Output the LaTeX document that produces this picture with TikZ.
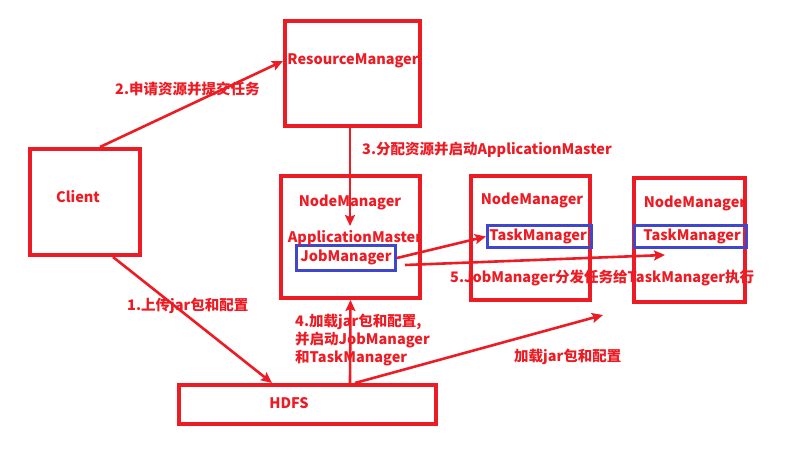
\documentclass[tikz,border=0pt]{standalone}
\usepackage{fontspec}
\setmainfont{Noto Sans CJK SC}
\usetikzlibrary{arrows.meta,calc}
\definecolor{rd}{RGB}{237,28,36}
\definecolor{bl}{RGB}{63,72,204}
\tikzset{
  redbox/.style={draw=rd,line width=4pt,rectangle,inner sep=0pt},
  bluebox/.style={draw=bl,line width=3pt,rectangle,inner sep=0pt},
  lbl/.style={text=rd,font=\bfseries\fontsize{14.5}{18}\selectfont,inner sep=0pt},
  arr/.style={draw=rd,line width=2.6pt,-{Stealth[length=11pt,width=10pt,inset=2pt]}},
}
\begin{document}
\begin{tikzpicture}[x=1pt,y=-1pt]
\useasboundingbox (0,0) rectangle (787,452);
% boxes
\node[redbox,minimum width=110pt,minimum height=106pt] (client) at (85,202) {};
\node[redbox,minimum width=135pt,minimum height=105pt] (rm) at (352.5,73.5) {};
\node[redbox,minimum width=139pt,minimum height=122pt] (nm1) at (350.5,237) {};
\node[redbox,minimum width=119pt,minimum height=124pt] (nm2) at (530.5,238) {};
\node[redbox,minimum width=111pt,minimum height=124pt] (nm3) at (689.5,240) {};
\node[redbox,minimum width=257pt,minimum height=39pt] (hdfs) at (307.5,404.5) {};
\node[bluebox,minimum width=99pt,minimum height=25pt] (jm) at (346,258) {};
\node[bluebox,minimum width=104pt,minimum height=22pt] (tm2) at (539.5,236.5) {};
\node[bluebox,minimum width=112pt,minimum height=22pt] (tm3) at (690.5,236.5) {};
% texts
\node[lbl] (clientT) at (78,197) {Client};
\node[lbl] (rmT) at (353,61) {ResourceManager};
\node[lbl] (nm1T) at (350,202) {NodeManager};
\node[lbl] (amT) at (355,238) {ApplicationMaster};
\node[lbl] (jmT) at (346,257) {JobManager};
\node[lbl] (nm2T) at (532,200) {NodeManager};
\node[lbl] (tm2T) at (538,236) {TaskManager};
\node[lbl] (nm3T) at (695,203) {NodeManager};
\node[lbl] (tm3T) at (692,236) {TaskManager};
\node[lbl] (hdfsT) at (289,403) {HDFS};
% labels
\node[lbl,anchor=west] (l2) at (115,89) {2.申请资源并提交任务};
\node[lbl,anchor=west] (l3) at (362,150) {3.分配资源并启动ApplicationMaster};
\node[lbl,anchor=west] (l1) at (127,306) {1.上传jar包和配置};
\node[lbl,anchor=west,align=left] (l4) at (295,340) {4.加载jar包和配置,\\并启动JobManager\\和TaskManager};
\node[lbl,anchor=west] (l5) at (450,278) {5.JobManager分发任务给TaskManager执行};
\node[lbl,anchor=west] (l6) at (514,357) {加载jar包和配置};
% free ends
\coordinate (a3end) at (350,226);
\coordinate (a6end) at (603,315);
\coordinate (a7end) at (665,255);
% arrows
\draw[arr] ([xshift=15pt]client.north) -- ([yshift=12.5pt]rm.west);
\draw[arr] ([xshift=-2.5pt]rm.south) -- (a3end);
\draw[arr] ([xshift=28pt]client.south) -- ([xshift=-35.5pt]hdfs.north);
\draw[arr] ([xshift=42.5pt]hdfs.north) -- (nm1.south);
\draw[arr] ([xshift=47.5pt]hdfs.north) -- (a6end);
\draw[arr] (jm.east) -- (tm2.west);
\draw[arr] ([shift={(8pt,-7pt)}]jm.east) -- (a7end);
\end{tikzpicture}
\end{document}
